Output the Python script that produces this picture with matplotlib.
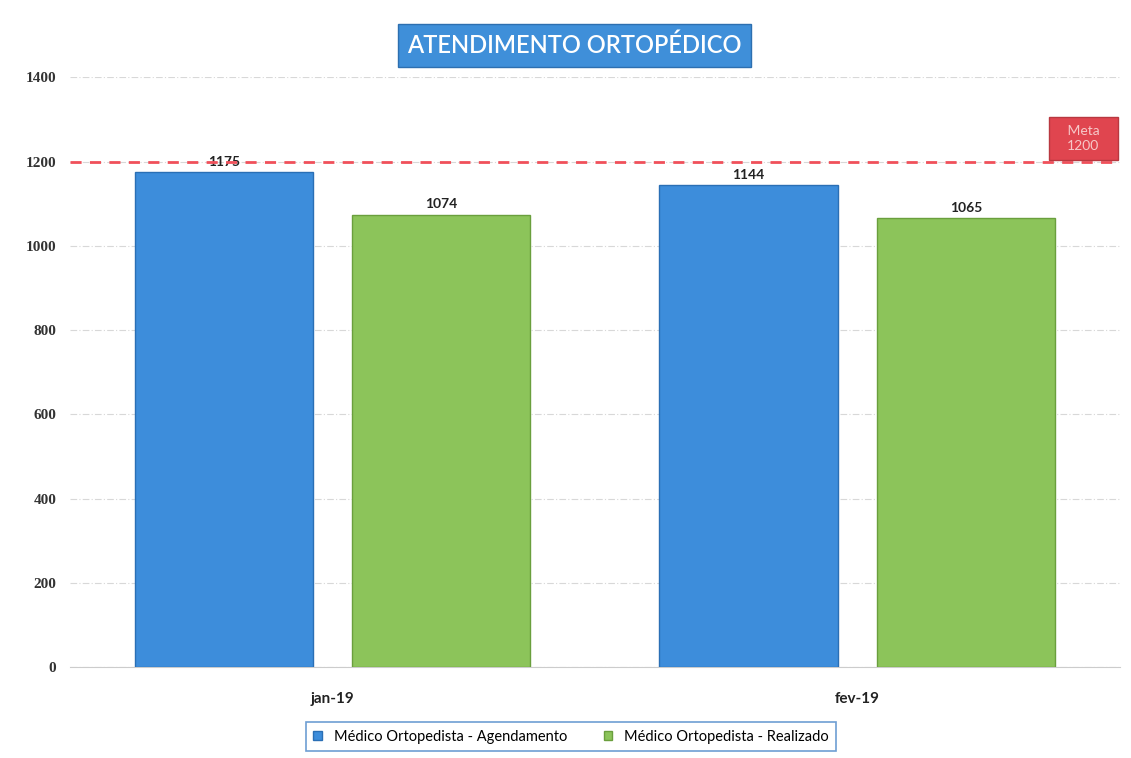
import numpy as np
import matplotlib.pyplot as plt

# Data
months = ['jan-19', 'fev-19']
agendamento = [1175, 1144]
realizado = [1074, 1065]
series_names = ['Médico Ortopedista - Agendamento', 'Médico Ortopedista - Realizado']
meta = 1200
yticks = [0, 200, 400, 600, 800, 1000, 1200, 1400]

plt.rcParams['font.family'] = ['Lato', 'DejaVu Sans']

fig = plt.figure(figsize=(11.31, 7.58), dpi=100)
ax = fig.add_axes([0.062, 0.12, 0.928, 0.778])

x = np.arange(len(months))
w = 0.34
off = 0.207
b1 = ax.bar(x - off, agendamento, w, color='#3d8ddb', edgecolor='#2a6fb5', linewidth=1,
            label=series_names[0], zorder=3)
b2 = ax.bar(x + off, realizado, w, color='#8cc45a', edgecolor='#6a9f3d', linewidth=1,
            label=series_names[1], zorder=3)

for bars in (b1, b2):
    ax.bar_label(bars, padding=3, fontsize=10, fontweight='bold', color='#222222')

# meta line + label box
ax.axhline(meta, color='#f0505a', linestyle=(0, (4, 3)), linewidth=2, zorder=4)
ax.text(1.431, meta + 55, '   Meta   \n1200', ha='center', va='center', fontsize=10,
        multialignment='center', color='#f6c8c8', zorder=5, linespacing=1.3,
        bbox=dict(boxstyle='square,pad=0.55', facecolor='#e0454f', edgecolor='#b83840'))

ax.set_xlim(-0.5, 1.5)
ax.set_ylim(0, 1400)
ax.set_yticks(yticks)
ax.set_yticklabels([str(t) for t in yticks], family='Liberation Serif', fontweight='bold',
                   fontsize=11, color='#333333')
ax.set_xticks(x)
ax.set_xticklabels(months, fontweight='bold', fontsize=11, color='#222222')
ax.tick_params(axis='y', length=0, pad=10)
ax.tick_params(axis='x', length=0, pad=18)
ax.grid(axis='y', color='#d8d8d8', linestyle=(0, (6, 2, 1, 2)), linewidth=0.8, zorder=0)
for s in ax.spines.values():
    s.set_visible(False)
ax.spines['bottom'].set_visible(True)
ax.spines['bottom'].set_color('#cccccc')

# title box
fig.text(0.508, 0.94, 'ATENDIMENTO ORTOPÉDICO', ha='center', va='center', fontsize=17,
         color='white', fontweight='semibold',
         bbox=dict(boxstyle='square,pad=0.4', facecolor='#3f8fd9', edgecolor='#2d6fb0'))

leg = fig.legend(loc='center', bbox_to_anchor=(0.505, 0.028), ncol=2, fontsize=10.5,
                 frameon=True, fancybox=False, edgecolor='#4a86c8', handlelength=0.6,
                 handleheight=0.6, columnspacing=2.5, borderpad=0.5)
leg.get_frame().set_linewidth(1.2)

fig.savefig('out.png', dpi=100)
